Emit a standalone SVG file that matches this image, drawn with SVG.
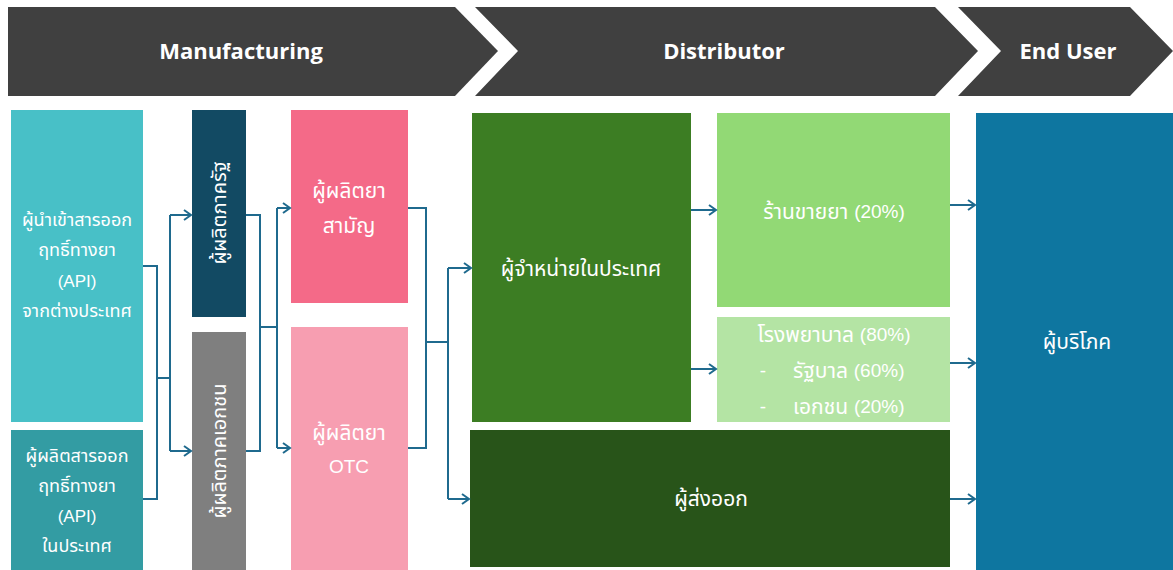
<svg xmlns="http://www.w3.org/2000/svg" width="1173" height="570" viewBox="0 0 1173 570">
<defs>
<marker id="arr" markerWidth="12" markerHeight="12" refX="10" refY="6" orient="auto" markerUnits="userSpaceOnUse">
<path d="M3,1 L10,6 L3,11" fill="none" stroke="#1F6A8E" stroke-width="2"/>
</marker>
<style>
.hd{fill:#404040}
.ht{font-family:"Open Sans","Liberation Sans",sans-serif;font-weight:bold;font-size:22px;fill:#fff;text-anchor:middle;dominant-baseline:central}
.t{font-family:"Liberation Sans","Noto Sans Thai","Noto Sans",sans-serif;font-size:21px;fill:#fff;text-anchor:middle;dominant-baseline:central}
.s{font-size:18px}
.l{font-size:19px}
.ls{font-size:17px}
.st{text-anchor:start}
.c{fill:none;stroke:#1F6A8E;stroke-width:2}
</style>
</defs>
<rect width="1173" height="570" fill="#fff"/>
<g id="header-manufacturing">
<path class="hd" d="M8,7 L455,7 L498,51 L455,96 L8,96 Z"/>
<text class="ht" x="241" y="50">Manufacturing</text>
</g>
<g id="header-distributor">
<path class="hd" d="M475,7 L935,7 L978,51 L935,96 L475,96 L518,51 Z"/>
<text class="ht" x="724" y="50">Distributor</text>
</g>
<g id="header-enduser">
<path class="hd" d="M958,7 L1130,7 L1173,51 L1130,96 L958,96 L1001,51 Z"/>
<text class="ht" x="1068" y="50">End User</text>
</g>
<g id="api-import">
<rect x="11" y="110" width="132" height="312" fill="#48C0C7"/>
<text class="t s" x="77" y="220">ผู้นำเข้าสารออก</text>
<text class="t s" x="77" y="250">ฤทธิ์ทางยา</text>
<text class="t ls" x="77" y="281">(API)</text>
<text class="t s" x="77" y="311">จากต่างประเทศ</text>
</g>
<g id="api-local">
<rect x="11" y="430" width="132" height="140" fill="#339CA3"/>
<text class="t s" x="77" y="456">ผู้ผลิตสารออก</text>
<text class="t s" x="77" y="486">ฤทธิ์ทางยา</text>
<text class="t ls" x="77" y="516">(API)</text>
<text class="t s" x="77" y="546">ในประเทศ</text>
</g>
<g id="public-producer">
<rect x="192" y="110" width="54" height="207" fill="#124A63"/>
<text class="t" style="font-size:20px" transform="translate(219,213) rotate(-90)" x="0" y="0">ผู้ผลิตภาครัฐ</text>
</g>
<g id="private-producer">
<rect x="192" y="332" width="54" height="238" fill="#7F7F7F"/>
<text class="t" style="font-size:20px" transform="translate(219,451) rotate(-90)" x="0" y="0">ผู้ผลิตภาคเอกชน</text>
</g>
<g id="generic-producer">
<rect x="291" y="110" width="117" height="193" fill="#F46A88"/>
<text class="t" x="349" y="190">ผู้ผลิตยา</text>
<text class="t" x="349" y="225">สามัญ</text>
</g>
<g id="otc-producer">
<rect x="291" y="327" width="117" height="243" fill="#F79EB1"/>
<text class="t" x="349" y="432">ผู้ผลิตยา</text>
<text class="t l" x="349" y="466">OTC</text>
</g>
<g id="domestic-distributor">
<rect x="472" y="113" width="219" height="309" fill="#3C7D23"/>
<text class="t" x="581" y="268">ผู้จำหน่ายในประเทศ</text>
</g>
<g id="pharmacy">
<rect x="717" y="113" width="233" height="194" fill="#92D975"/>
<text class="t" x="834" y="211">ร้านขายยา <tspan class="l">(20%)</tspan></text>
</g>
<g id="hospital">
<rect x="717" y="317" width="233" height="105" fill="#B4E4A4"/>
<text class="t" x="834" y="334">โรงพยาบาล <tspan class="l">(80%)</tspan></text>
<text class="t l" x="763" y="370">-</text>
<text class="t st" x="793" y="370">รัฐบาล <tspan class="l">(60%)</tspan></text>
<text class="t l" x="763" y="406">-</text>
<text class="t st" x="793" y="406">เอกชน <tspan class="l">(20%)</tspan></text>
</g>
<g id="exporter">
<rect x="470" y="430" width="480" height="137" fill="#285419"/>
<text class="t" x="711" y="498">ผู้ส่งออก</text>
</g>
<g id="consumer">
<rect x="976" y="113" width="197" height="457" fill="#0E76A0"/>
<text class="t" x="1077" y="341">ผู้บริโภค</text>
</g>
<g id="connectors">
<path class="c" d="M143,266 H157 V499 H143"/>
<path class="c" d="M157,378 H170"/>
<path class="c" d="M170,215 V451"/>
<path class="c" d="M170,215 H191" marker-end="url(#arr)"/>
<path class="c" d="M170,451 H191" marker-end="url(#arr)"/>
<path class="c" d="M246,215 H260 V451 H246"/>
<path class="c" d="M260,327 H277"/>
<path class="c" d="M277,208 V448"/>
<path class="c" d="M277,208 H290" marker-end="url(#arr)"/>
<path class="c" d="M277,448 H290" marker-end="url(#arr)"/>
<path class="c" d="M408,208 H426 V448 H408"/>
<path class="c" d="M426,342 H448"/>
<path class="c" d="M448,268 V499"/>
<path class="c" d="M448,268 H471" marker-end="url(#arr)"/>
<path class="c" d="M448,499 H469" marker-end="url(#arr)"/>
<path class="c" d="M691,210 H716" marker-end="url(#arr)"/>
<path class="c" d="M691,369 H716" marker-end="url(#arr)"/>
<path class="c" d="M950,205 H975" marker-end="url(#arr)"/>
<path class="c" d="M950,363 H975" marker-end="url(#arr)"/>
<path class="c" d="M950,499 H975" marker-end="url(#arr)"/>
</g>
</svg>
